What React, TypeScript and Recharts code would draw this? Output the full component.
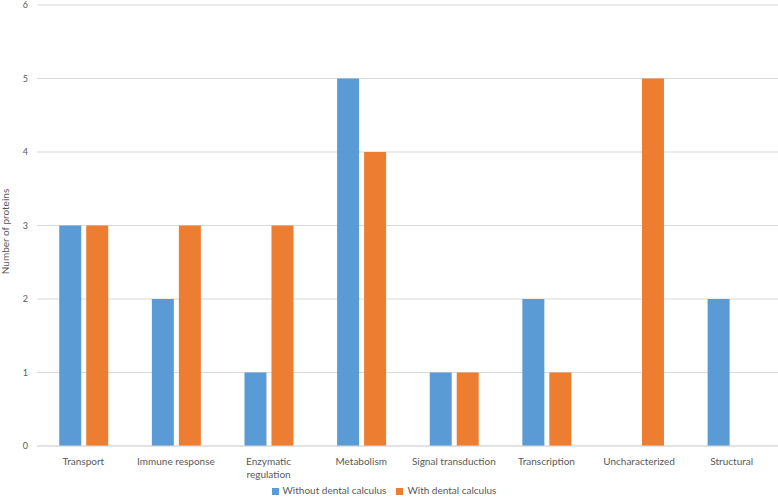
import { Bar, BarChart, CartesianGrid, Legend, XAxis, YAxis } from "recharts";

const categories = [
  "Transport",
  "Immune response",
  "Enzymatic\nregulation",
  "Metabolism",
  "Signal transduction",
  "Transcription",
  "Uncharacterized",
  "Structural",
];
const withoutCalculus = [3, 2, 1, 5, 1, 2, 0, 2];
const withCalculus = [3, 3, 3, 4, 1, 1, 5, 0];
const yTicks = [0, 1, 2, 3, 4, 5, 6];

const data = categories.map((name, i) => ({
  name,
  without: withoutCalculus[i],
  with: withCalculus[i],
}));

const FONT = "Lato, 'Open Sans', sans-serif";
const TEXT = "#595959";

function CategoryTick({ x, y, payload }: any) {
  const lines = String(payload.value).split("\n");
  return (
    <text x={x} y={y} textAnchor="middle" fill={TEXT} fontSize={10} fontFamily={FONT}>
      {lines.map((line, i) => (
        <tspan key={i} x={x} dy={i === 0 ? 11 : 13}>
          {line}
        </tspan>
      ))}
    </text>
  );
}

function YLabel({ viewBox }: any) {
  const cy = viewBox.y + viewBox.height / 2 + 6;
  return (
    <text
      x={9}
      y={cy}
      transform={`rotate(-90, 9, ${cy})`}
      textAnchor="middle"
      fill={TEXT}
      fontSize={10}
      fontFamily={FONT}
    >
      Number of proteins
    </text>
  );
}

export default function App() {
  return (
    <div style={{ width: 778, height: 497 }}>
      <style>{"body{margin:0}"}</style>
      <BarChart
        width={778}
        height={497}
        data={data}
        margin={{ top: 5, right: 0, left: 0, bottom: 0 }}
        barCategoryGap="24%"
        barGap={5}
      >
        <CartesianGrid vertical={false} stroke="#d9d9d9" />
        <XAxis
          dataKey="name"
          interval={0}
          tick={<CategoryTick />}
          tickLine={false}
          axisLine={{ stroke: "#d9d9d9" }}
          height={38}
        />
        <YAxis
          width={37}
          domain={[0, 6]}
          ticks={yTicks}
          interval={0}
          axisLine={false}
          tickLine={false}
          tickSize={0}
          tickMargin={9}
          tick={{ fill: TEXT, fontSize: 9, fontFamily: FONT }}
          label={<YLabel />}
        />
        <Legend
          verticalAlign="bottom"
          align="center"
          iconType="square"
          iconSize={7}
          height={13}
          itemSorter={null}
          wrapperStyle={{ fontSize: 10, fontFamily: FONT, lineHeight: "13px" }}
          formatter={(value) => <span style={{ color: TEXT }}>{value}</span>}
        />
        <Bar
          dataKey="without"
          name="Without dental calculus"
          fill="#5B9BD5"
          isAnimationActive={false}
        />
        <Bar
          dataKey="with"
          name="With dental calculus"
          fill="#ED7D31"
          isAnimationActive={false}
        />
      </BarChart>
    </div>
  );
}
